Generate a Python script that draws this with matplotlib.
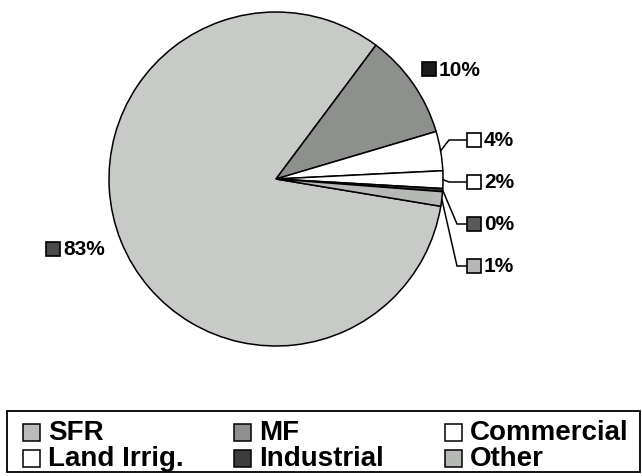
import numpy as np
import matplotlib.pyplot as plt
from matplotlib.patches import Rectangle

# share of water use by customer class (%)
categories = ['SFR', 'MF', 'Commercial', 'Land Irrig.', 'Industrial', 'Other']
shares = [82.6, 10.2, 3.8, 1.7, 0.3, 1.4]
colors = ['#c7cac7', '#8d908d', '#ffffff', '#ffffff', '#3c3c3c', '#b6b9b6']
key_colors = ['#4a4a4a', '#1a1a1a', '#ffffff', '#ffffff', '#5a5a5a', '#b6b9b6']
legend_colors = ['#b9bcb9', '#8d908d', '#ffffff', '#ffffff', '#3c3c3c', '#b6b9b6']

W, H = 642, 477
fig = plt.figure(figsize=(W / 100, H / 100), dpi=100)
ax = fig.add_axes([0, 0, 1, 1])

cx, cy, r = 276, H - 180, 167
wedges, _ = ax.pie(shares, colors=colors, startangle=-9.4, counterclock=False,
                   center=(cx, cy), radius=r,
                   wedgeprops=dict(edgecolor='black', linewidth=1.1))
ax.set_xlim(0, W)
ax.set_ylim(0, H)
ax.set_aspect('equal')
ax.axis('off')

# label placement: (key x, label y, leader line?)
label_pos = {
    'SFR': (46, H - 250, False),
    'MF': (422, H - 70, False),
    'Commercial': (467, H - 141, True),
    'Land Irrig.': (467, H - 183, True),
    'Industrial': (467, H - 225, True),
    'Other': (467, H - 267, True),
}
bends = {'Commercial': 449, 'Land Irrig.': 449, 'Industrial': 457, 'Other': 457}

lf = dict(family='Liberation Sans', weight='bold', size=15)
ks = 14
for w, name, val, kc in zip(wedges, categories, shares, key_colors):
    kx, ky, leader = label_pos[name]
    ax.add_patch(Rectangle((kx, ky - ks / 2), ks, ks, facecolor=kc,
                           edgecolor='black', linewidth=1.2, zorder=3))
    ax.text(kx + ks + 3, ky, f'{val:.0f}%', ha='left', va='center', **lf)
    if leader:
        mid = np.deg2rad((w.theta1 + w.theta2) / 2)
        ex = cx + r * np.cos(mid)
        ey = cy + r * np.sin(mid)
        ax.plot([ex, bends[name], kx - 1], [ey, ky, ky], color='black', lw=1.1,
                solid_joinstyle='miter', zorder=2)

# legend box, 3 columns x 2 rows, filled column-wise
ax.add_patch(Rectangle((7, H - 473), 633, 61, facecolor='white',
                       edgecolor='black', linewidth=1.3, zorder=3))
col_x = [23, 234, 445]
row_y = [H - 433, H - 459]
order = [0, 3, 1, 4, 2, 5]
lk = 17
for n, i in enumerate(order):
    x = col_x[n // 2]
    y = row_y[n % 2]
    ax.add_patch(Rectangle((x, y - lk / 2), lk, lk, facecolor=legend_colors[i],
                           edgecolor='black', linewidth=1.1, zorder=4))
    ax.text(x + lk + 8, y, categories[i], ha='left', va='center', zorder=4,
            family='Liberation Sans', weight='bold', size=20)

fig.savefig('out.png', dpi=100, facecolor='white')
